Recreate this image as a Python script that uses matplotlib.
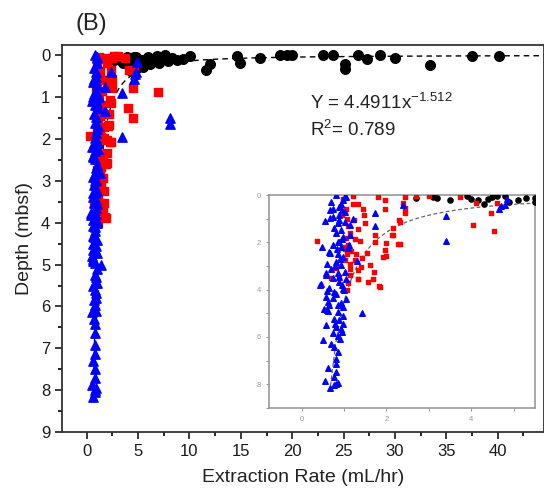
import numpy as np
import matplotlib
matplotlib.use("Agg")
import matplotlib.pyplot as plt
from matplotlib.ticker import MultipleLocator

plt.rcParams['font.family'] = ['Liberation Sans', 'DejaVu Sans']

# black circles (rate mL/hr, depth mbsf)
black_rate = [2.7, 3.1, 3.2, 3.5, 3.9, 4.0, 4.15, 4.3, 4.4, 4.5, 4.6, 4.8, 4.9, 5.1, 5.3,
              5.5, 5.5, 5.8, 6.0, 6.2, 6.5, 6.8, 7.0, 7.3, 7.6, 7.9, 8.3, 8.8, 9.4, 10.1,
              11.6, 12.0, 14.6, 14.9, 16.9, 18.8, 19.5, 20.0, 23.0, 24.0, 25.1, 25.1,
              26.4, 27.3, 28.5, 30.0, 33.4, 37.5, 40.1]
black_depth = [0.12, 0.08, 0.12, 0.20, 0.05, 0.16, 0.22, 0.38, 0.16, 0.10, 0.04, 0.04, 0.30,
               0.20, 0.12, 0.28, 0.12, 0.15, 0.05, 0.22, 0.12, 0.02, 0.18, 0.10, 0.00, 0.14,
               0.08, 0.12, 0.10, 0.02, 0.36, 0.22, 0.02, 0.18, 0.08, 0.00, 0.00, 0.00, 0.00,
               0.00, 0.22, 0.32, 0.00, 0.10, 0.00, 0.06, 0.24, 0.02, 0.02]

# red squares
red_rate = [0.95, 1.05, 1.07, 1.09, 1.13, 1.05, 1.09, 1.01, 1.07, 1.01, 0.81, 0.69, 0.89,
            1.09, 1.13, 1.21, 1.23, 1.26, 1.17, 1.15, 1.33, 1.33, 1.45, 1.47, 1.49, 1.33,
            1.13, 1.81, 2.44, 3.74, 2.40, 2.44, 2.44, 1.97, 2.30, 2.15, 2.12, 2.28, 1.99,
            1.97, 1.91, 1.60, 1.71, 1.67, 1.83, 1.33, 1.33, 0.36, 4.04, 4.53, 4.47, 4.61,
            4.12, 2.32, 2.32, 6.9, 1.72, 1.72, 1.96, 2.0, 2.16, 1.41, 1.29, 1.07, 1.56,
            1.84, 3.0, 2.7, 0.98, 1.02, 1.20, 1.38, 1.55, 1.25, 1.40]
red_depth = [0.86, 0.61, 1.03, 1.31, 1.60, 1.80, 2.10, 2.30, 2.50, 2.74, 3.10, 3.52, 3.46,
             3.72, 3.38, 0.37, 1.07, 1.86, 2.35, 2.92, 1.45, 0.37, 0.60, 0.85, 1.20, 3.57,
             3.14, 0.07, 0.07, 0.07, 0.35, 0.56, 0.78, 0.60, 1.06, 1.41, 1.70, 2.08, 2.02,
             2.33, 2.61, 2.94, 3.25, 3.53, 3.86, 3.18, 3.53, 1.94, 1.27, 1.51, 0.78, 0.35,
             0.35, 1.14, 2.08, 0.88, 1.71, 1.99, 0.20, 2.58, 1.68, 2.67, 2.50, 4.00, 3.66,
             3.90, 0.02, 0.02, 0.15, 2.20, 0.05, 1.95, 2.45, 2.75, 3.05]

# blue triangles
blue_rate = [1.01, 1.05, 0.97, 0.73, 0.89, 0.73, 0.89, 1.01, 0.85, 1.01, 1.13, 0.93, 0.81,
             0.97, 0.85, 0.73, 0.93, 0.66, 0.85, 0.97, 0.81, 0.93, 1.31, 0.69, 0.57, 0.85,
             1.01, 0.73, 0.46, 0.89, 0.65, 0.97, 0.77, 1.11, 1.74, 1.74, 0.66, 0.66, 0.65,
             0.43, 0.57, 0.60, 0.62, 0.60, 0.57, 0.73, 1.05, 0.65, 0.85, 0.97, 0.61, 0.85,
             0.97, 1.41, 0.77, 0.89, 0.97, 0.81, 0.93, 0.73, 0.85, 0.91, 0.50, 0.77, 0.85,
             0.81, 0.81, 0.81, 0.77, 0.55, 0.77, 0.66, 0.80, 0.70, 0.92, 0.88, 0.75, 0.95,
             0.83, 0.90, 0.78, 0.87, 0.94, 0.80, 8.1, 8.1, 3.4, 3.4, 4.7, 4.65, 4.85, 4.8,
             2.4, 0.80, 0.95, 0.88, 0.92, 0.78, 0.55, 1.15, 0.48, 1.10, 0.60, 1.05, 0.52,
             1.00, 0.58, 0.70, 0.95, 1.20, 0.62, 0.86]
blue_depth = [0.04, 0.08, 0.20, 0.58, 0.52, 0.93, 0.86, 0.72, 1.20, 1.14, 1.27, 1.48, 1.62,
              1.76, 1.97, 2.10, 2.18, 2.44, 2.48, 2.62, 2.83, 2.97, 2.81, 3.11, 3.30, 3.30,
              3.25, 3.52, 3.76, 3.66, 3.93, 3.97, 4.10, 2.10, 0.75, 1.33, 0.64, 0.99, 2.40,
              3.82, 3.39, 4.07, 4.52, 4.87, 4.31, 4.35, 4.41, 4.66, 4.66, 4.72, 4.92, 4.96,
              5.10, 5.00, 5.24, 5.30, 5.45, 5.60, 5.68, 5.85, 5.96, 6.10, 6.14, 6.43, 6.64,
              6.92, 7.13, 7.50, 7.70, 7.88, 8.05, 8.17, 8.00, 0.30, 0.40, 1.05, 1.40, 1.85,
              2.30, 2.70, 3.00, 3.45, 3.80, 4.20, 1.50, 1.65, 0.90, 1.95, 0.45, 0.58, 0.16,
              0.41, 0.41, 0.00, 0.65, 2.00, 4.55, 5.45, 1.10, 1.70, 2.20, 2.25, 2.90, 3.55,
              4.80, 4.00, 5.50, 6.30, 5.80, 1.00, 7.30, 7.95]

fit_a = 4.4911
fit_b = -1.512
fit_x = np.linspace(0.68, 46, 400)
fit_y = fit_a * fit_x ** fit_b

fig = plt.figure(figsize=(5.44, 4.95), dpi=100)
ax = fig.add_axes([0.114, 0.127, 0.886, 0.782])

ax.plot(fit_x, fit_y, ls=(0, (4, 3)), color='black', lw=1.0, zorder=1)
ax.scatter(black_rate, black_depth, s=48, marker='o', color='black', zorder=3)
ax.scatter(red_rate, red_depth, s=40, marker='s', color='#ff0000', zorder=3)
ax.scatter(blue_rate, blue_depth, s=45, marker='^', color='#0000ff', zorder=3)

ax.set_xlim(-2.4, 44.5)
ax.set_ylim(9, -0.24)
ax.xaxis.set_minor_locator(MultipleLocator(2.5))
ax.yaxis.set_major_locator(MultipleLocator(1))
ax.yaxis.set_minor_locator(MultipleLocator(0.5))
ax.set_xticks(np.arange(0, 45, 5))
ax.tick_params(which='major', direction='out', length=5, width=1.2, labelsize=12, colors='#1a1a1a')
ax.tick_params(which='minor', direction='out', length=3, width=1.2)
for sp in ax.spines.values():
    sp.set_linewidth(1.3)
    sp.set_color('#333333')
ax.set_xlabel('Extraction Rate (mL/hr)', fontsize=14, color='#222222', labelpad=7)
ax.set_ylabel('Depth (mbsf)', fontsize=14, color='#222222', labelpad=6)

ax.text(0.515, 0.835, 'Y = 4.4911x$^{\\mathregular{-1.512}}$', transform=ax.transAxes,
        fontsize=13.5, color='#222222')
ax.text(0.515, 0.765, 'R$^{\\mathregular{2}}$= 0.789', transform=ax.transAxes,
        fontsize=13.5, color='#222222')
fig.text(0.138, 0.94, '(B)', fontsize=17, color='#222222')

# inset
axi = fig.add_axes([0.494, 0.176, 0.489, 0.430])
axi.plot(fit_x, fit_y, ls=(0, (3, 2)), color='#666666', lw=0.9, zorder=1)
axi.scatter(black_rate, black_depth, s=14, marker='o', color='black', zorder=3)
axi.scatter(red_rate, red_depth, s=12, marker='s', color='#ff0000', zorder=3)
axi.scatter(blue_rate, blue_depth, s=16, marker='^', color='#0000ff', zorder=3)
axi.set_xlim(-0.78, 5.5)
axi.set_ylim(9, 0)
axi.xaxis.set_major_locator(MultipleLocator(2))
axi.xaxis.set_minor_locator(MultipleLocator(1))
axi.yaxis.set_major_locator(MultipleLocator(2))
axi.yaxis.set_minor_locator(MultipleLocator(1))
axi.tick_params(which='both', direction='out', length=2, width=0.8, labelsize=5.5,
                colors='#999999')
for sp in axi.spines.values():
    sp.set_linewidth(1.2)
    sp.set_color('#999999')

fig.savefig('out.png', dpi=100)
